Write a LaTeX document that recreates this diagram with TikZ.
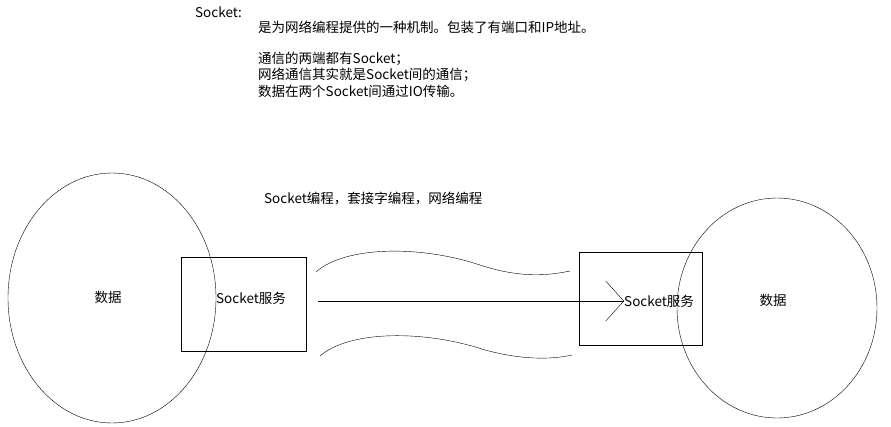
\documentclass[tikz,border=0pt]{standalone}
\usepackage{fontspec}
\setmainfont{Noto Sans CJK SC}
\usetikzlibrary{arrows.meta}
\tikzset{
  txt/.style={anchor=west, inner sep=0pt, font=\fontsize{13.5}{16}\selectfont},
  sock box/.style={draw, thin},
  world/.style={draw, thin}
}
\begin{document}
\begin{tikzpicture}[x=1pt,y=-1pt, thin]
\useasboundingbox (0,0) rectangle (891,426);

% title and notes
\node[txt] (title) at (195,12) {Socket:};
\node[txt] (l1) at (258,27) {是为网络编程提供的一种机制。包装了有端口和IP地址。};
\node[txt] (l2) at (258,59) {通信的两端都有Socket；};
\node[txt] (l3) at (258,75) {网络通信其实就是Socket间的通信；};
\node[txt] (l4) at (258,91) {数据在两个Socket间通过IO传输。};
\node[txt] (cap) at (264,198) {Socket编程，套接字编程，网络编程};

% two ends
\draw[world] (112,298) ellipse [x radius=104, y radius=125];
\draw[world] (777,308) ellipse [x radius=100, y radius=110];
\draw[sock box] (181,257) rectangle (306,351);
\draw[sock box] (579,252) rectangle (702,345);

\node[txt, anchor=center] (d1) at (108,297) {数据};
\node[txt] (s1) at (216,298) {Socket服务};
\node[txt] (s2) at (624,301) {Socket服务};
\node[txt, anchor=center] (d2) at (773,300) {数据};

% transfer
\coordinate (a) at (318,301);
\draw[-{Straight Barb[length=18pt,width=40pt]}] (a) -- (s2.west);

\draw (316,272) .. controls (345,246) and (420,245) .. (480,265)
      .. controls (525,280) and (555,274) .. (570,271);
\draw (320,356) .. controls (350,330) and (425,330) .. (485,350)
      .. controls (530,362) and (558,358) .. (572,355);
\end{tikzpicture}
\end{document}
